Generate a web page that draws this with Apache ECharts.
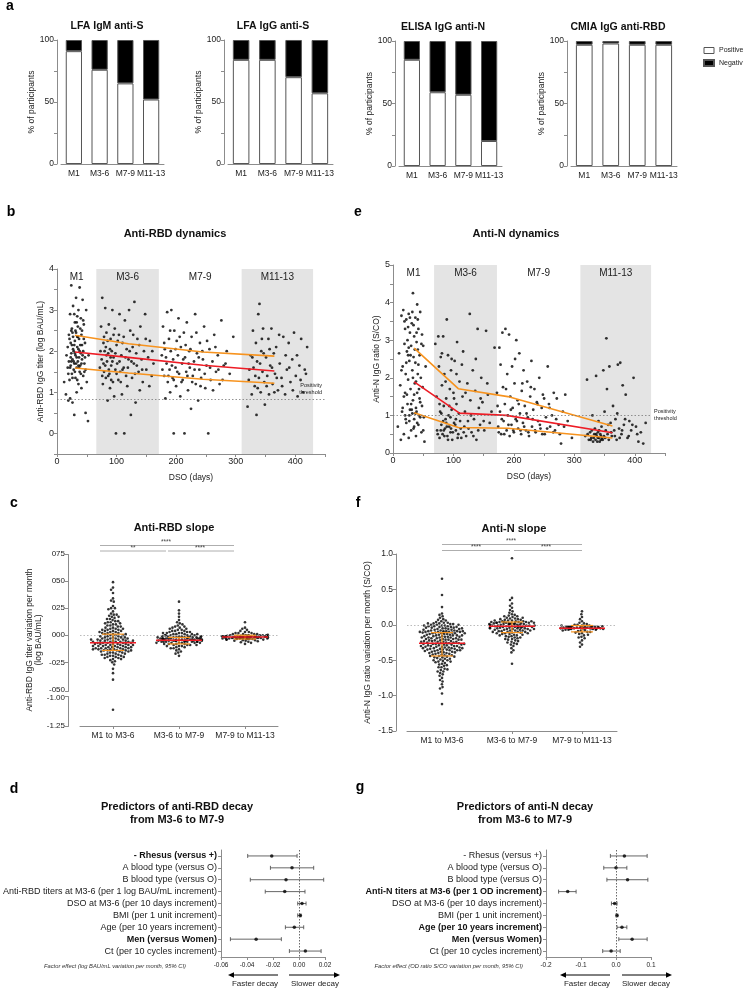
<!DOCTYPE html>
<html><head><meta charset="utf-8">
<script src="https://cdn.jsdelivr.net/npm/echarts@6/dist/echarts.min.js"></script>
<style>html,body{margin:0;padding:0;background:#fff}#c{width:743px;height:989px}</style>
</head><body><div id="c"></div>
<script>
// ---------------- DATA ----------------
const barCats = ['M1','M3-6','M7-9','M11-13'];
const lfaIgmPos = [91,76,65,52];  const lfaIgmNeg = [9,24,35,48];
const lfaIggPos = [84,84,70,57];  const lfaIggNeg = [16,16,30,43];
const elisaNPos = [85,59,57,20];  const elisaNNeg = [15,41,43,80];
const cmiaRbdPos = [97,98,97,97]; const cmiaRbdNeg = [3,2,3,3];

const periodNames = ['M1','M3-6','M7-9','M11-13'];
const rbdBands = [[0,66],[66,171],[171,310],[310,430]];
const nBands = [[0,68],[68,172],[172,310],[310,427]];
const bandShaded = [false,true,false,true];
const rbdThreshold = 0.83;
const nThreshold = 1.0;

const rbdM1 = [[12,1.25],[15,0.95],[16,1.9],[18,2.1],[18,1.6],[19,0.8],[20,2.4],[20,1.75],[21,1.3],[22,2.9],[22,0.85],[23,2.2],[23,1.65],[24,3.6],[24,1.95],[25,2.55],[25,1.45],[26,0.75],[26,1.8],[27,3.1],[27,2.35],[28,1.55],[28,2.0],[29,0.45],[29,1.7],[30,2.7],[30,2.25],[31,1.35],[31,1.9],[32,3.3],[32,2.45],[33,1.6],[33,1.0],[34,2.85],[34,2.1],[35,1.75],[35,2.6],[36,1.2],[36,3.0],[37,2.3],[37,1.85],[38,1.5],[38,3.55],[39,2.15],[39,1.65],[40,2.8],[40,1.95],[41,1.1],[42,2.5],[42,1.8],[43,3.25],[44,2.0],[44,1.4],[45,2.65],[46,1.7],[47,2.2],[48,0.5],[48,1.55],[49,3.0],[50,1.25],[52,0.3],[53,1.9],[27,2.05],[31,2.5],[35,2.35],[24,1.75],[29,2.15],[33,1.85],[41,2.4],[38,2.0]];
const rbdM1b = [[21,2.3],[23,1.85],[25,2.15],[26,2.45],[28,1.75],[30,1.95],[32,1.7],[34,2.35],[36,2.05],[37,1.6],[39,2.55],[40,1.45],[42,2.15],[43,1.9],[45,2.3],[46,1.5],[30,1.5],[33,2.7],[26,1.35],[22,1.6],[36,1.65],[44,2.75],[29,2.9],[34,1.3],[47,1.85],[19,1.45],[41,1.7],[24,2.5]];
const rbdM36 = [[72,1.6],[74,2.6],[75,1.8],[76,3.3],[77,1.2],[78,2.2],[79,1.5],[80,2.0],[81,3.05],[82,1.35],[83,2.45],[84,1.75],[85,0.8],[86,1.95],[87,2.65],[88,1.45],[89,1.1],[90,2.3],[91,1.65],[92,2.0],[93,3.0],[94,1.25],[95,1.85],[96,0.9],[97,2.55],[98,1.55],[99,0.0],[100,2.15],[101,1.7],[103,1.3],[104,2.4],[105,2.9],[106,1.5],[108,1.9],[109,0.95],[110,2.2],[112,1.6],[113,0.0],[114,2.75],[116,1.4],[117,2.05],[118,1.15],[120,1.8],[121,3.0],[123,2.5],[124,0.45],[126,1.35],[127,2.1],[129,1.7],[130,3.2],[132,0.75],[133,1.95],[135,2.3],[137,1.5],[139,1.05],[140,2.6],[142,1.8],[144,1.25],[146,2.0],[148,2.9],[150,1.55],[153,1.85],[156,2.25],[159,1.4],[162,1.7],[78,1.7],[82,2.1],[86,1.4],[90,1.85]];
const rbdM36b = [[73,2.0],[76,1.4],[79,2.35],[81,1.65],[83,1.9],[85,2.25],[87,1.55],[89,2.05],[91,1.3],[93,1.75],[95,2.4],[98,1.95],[100,1.45],[102,2.25],[105,1.75],[107,1.25],[110,1.55],[112,2.35],[115,1.85],[119,1.6],[122,2.0],[125,1.75],[128,2.4],[131,1.45],[134,1.65],[138,2.15],[143,1.55],[149,2.3],[155,1.15],[160,2.0]];
const rbdM79 = [[176,1.9],[178,2.6],[180,1.4],[181,2.05],[182,0.85],[184,1.7],[185,2.95],[186,1.25],[188,2.3],[189,1.55],[190,1.0],[191,2.0],[192,3.0],[194,1.35],[195,1.8],[196,0.0],[197,2.5],[199,1.6],[200,1.15],[201,2.25],[203,1.9],[204,2.8],[205,1.45],[207,0.9],[208,2.1],[210,1.7],[211,1.3],[213,2.45],[214,0.0],[215,1.85],[217,1.5],[218,2.7],[220,1.05],[222,2.0],[223,1.6],[225,0.6],[226,2.35],[228,1.4],[230,1.75],[232,2.9],[233,1.2],[235,1.95],[237,0.8],[239,1.55],[240,2.2],[242,1.35],[245,1.8],[247,2.6],[249,1.1],[251,1.65],[254,0.0],[256,2.05],[258,1.3],[261,1.75],[264,2.4],[267,1.5],[270,1.9],[273,1.2],[276,2.75],[280,1.65],[285,2.0],[290,1.45],[296,2.35]];
const rbdM79b = [[177,1.55],[180,2.2],[183,1.85],[187,1.4],[190,2.5],[193,1.65],[196,1.3],[199,2.05],[202,1.5],[206,2.35],[209,1.25],[212,1.8],[216,2.15],[219,1.4],[221,1.7],[224,2.05],[227,1.25],[231,1.55],[234,2.45],[238,1.85],[241,1.15],[244,2.0],[248,1.45],[252,2.25],[257,1.6],[262,1.05],[266,2.1],[271,1.55],[278,1.3],[283,1.7]];
const rbdM1113 = [[320,0.65],[322,1.3],[325,1.9],[327,0.95],[329,2.5],[330,1.6],[332,1.15],[334,2.2],[335,0.45],[336,1.75],[338,2.9],[339,1.35],[340,3.15],[342,1.0],[343,2.0],[345,1.5],[346,2.55],[348,1.25],[349,0.7],[351,1.85],[353,1.4],[355,2.3],[356,0.95],[358,1.65],[360,2.55],[362,1.2],[364,1.95],[366,1.45],[368,2.1],[371,1.05],[374,1.7],[377,1.35],[380,2.35],[383,0.95],[386,1.55],[389,2.2],[392,1.25],[395,1.8],[398,2.45],[401,1.4],[404,0.9],[407,1.65],[410,2.3],[413,1.0],[416,1.55],[420,2.1]];
const rbdM1113b = [[323,1.55],[328,1.85],[333,1.4],[337,1.1],[341,1.7],[344,2.3],[347,1.95],[352,1.15],[357,2.05],[361,1.6],[365,1.0],[369,1.35],[373,2.4],[378,1.15],[384,1.9],[390,1.6],[396,1.05],[403,1.9],[409,1.3],[418,1.45]];
const rbdTrendMedian = [[30,1.98],[120,1.85],[245,1.66],[365,1.52]];
const rbdTrendQ3 = [[30,2.39],[120,2.18],[245,1.98],[365,1.88]];
const rbdTrendQ1 = [[30,1.59],[120,1.47],[245,1.32],[365,1.22]];

const nM1 = [[8,0.7],[10,2.65],[12,1.8],[13,0.35],[14,3.65],[15,1.1],[16,2.3],[17,3.8],[18,0.5],[18,1.5],[19,2.9],[20,3.3],[20,1.0],[21,2.1],[22,3.55],[22,0.8],[23,2.7],[24,1.3],[24,3.0],[25,1.95],[26,0.4],[26,3.7],[27,2.45],[28,1.15],[28,3.2],[29,1.7],[30,2.85],[30,0.6],[31,3.45],[32,2.2],[32,1.05],[33,4.25],[33,1.4],[34,2.55],[35,3.1],[35,0.9],[36,1.85],[37,3.6],[37,2.4],[38,1.2],[38,0.45],[39,2.95],[40,3.95],[40,1.6],[41,2.1],[42,0.75],[42,3.3],[43,1.0],[44,2.6],[45,3.75],[45,1.35],[46,2.0],[47,0.55],[48,3.15],[49,1.75],[50,2.85],[51,0.95],[52,0.3],[54,2.3],[27,1.0],[31,1.15],[35,0.7],[39,1.1],[25,2.6],[34,3.4],[41,2.75]];
const nM1b = [[14,2.2],[16,1.2],[19,3.5],[21,0.9],[23,1.55],[25,3.35],[27,0.85],[29,2.6],[30,1.3],[32,3.75],[34,0.65],[36,2.75],[37,1.05],[39,3.2],[40,0.8],[42,2.35],[43,1.7],[45,0.95],[47,2.9],[48,1.25],[50,0.6],[22,2.4],[33,2.0],[28,3.6],[41,3.55],[20,1.6],[44,1.45],[26,2.8],[38,1.9],[35,1.55]];
const nM36 = [[70,2.9],[72,1.5],[73,0.6],[75,3.1],[76,2.3],[77,0.4],[78,1.1],[79,2.55],[80,0.75],[81,1.8],[82,0.5],[83,3.1],[84,1.25],[85,2.1],[86,0.65],[87,0.9],[88,1.45],[89,3.55],[90,0.45],[91,2.6],[92,1.0],[93,0.7],[94,1.7],[95,0.55],[96,2.2],[97,1.15],[98,0.35],[100,1.6],[101,0.8],[102,2.45],[104,0.6],[105,1.3],[106,2.95],[108,0.5],[110,1.9],[111,0.85],[113,0.4],[115,1.5],[116,2.7],[118,0.7],[119,1.1],[121,0.45],[123,1.85],[125,0.65],[127,3.7],[128,1.4],[130,0.55],[132,2.2],[134,0.9],[136,1.65],[138,0.35],[140,3.3],[142,1.2],[144,0.75],[146,2.0],[148,1.35],[151,0.6],[154,3.25],[157,1.55],[160,0.8],[163,1.1],[168,2.8],[80,1.05],[84,0.6],[88,0.8],[96,0.65],[104,0.9]];
const nM36b = [[74,0.5],[77,1.3],[79,0.6],[81,2.65],[83,0.85],[85,0.45],[87,1.9],[89,0.7],[91,0.35],[93,1.25],[95,0.95],[97,2.5],[99,0.55],[101,1.45],[103,0.75],[105,2.1],[107,0.4],[109,1.05],[112,0.65],[114,2.35],[117,0.55],[120,1.6],[124,0.85],[129,1.0],[133,0.45],[137,2.5],[141,0.6],[145,1.45],[150,0.85],[156,1.85]];
const nM79 = [[172,1.6],[174,0.7],[176,2.8],[177,1.1],[179,0.5],[181,3.2],[182,1.75],[183,0.85],[185,1.3],[186,3.3],[188,0.6],[189,2.1],[190,1.0],[192,3.15],[193,0.45],[194,1.5],[196,0.75],[197,2.3],[198,1.2],[200,0.55],[201,1.85],[203,0.9],[204,3.0],[206,1.4],[207,0.65],[209,2.65],[210,1.05],[212,0.5],[213,1.65],[215,0.8],[216,2.2],[218,1.25],[220,0.6],[222,1.9],[223,0.95],[225,0.45],[227,1.5],[229,2.45],[230,0.7],[232,1.15],[234,1.7],[236,0.55],[238,1.35],[240,0.85],[242,2.0],[244,0.65],[246,1.2],[248,1.55],[251,0.5],[253,0.95],[256,2.3],[258,1.3],[260,0.7],[263,1.0],[266,1.6],[268,0.6],[271,1.45],[274,0.75],[278,0.25],[281,1.1],[285,1.55],[289,0.85],[296,0.4]];
const nM79b = [[173,1.25],[175,0.55],[178,2.35],[180,0.9],[184,0.5],[187,1.7],[191,0.75],[195,1.15],[199,0.6],[202,2.5],[205,0.85],[208,1.3],[211,0.6],[214,1.85],[217,0.7],[221,1.05],[224,0.55],[228,1.75],[231,0.9],[235,0.6],[239,1.3],[243,0.75],[247,0.5],[250,1.45],[255,0.65],[259,1.2],[265,0.55],[270,0.9],[276,0.5],[283,0.7]];
const nM1113 = [[318,0.45],[321,1.95],[324,0.35],[326,0.55],[328,0.4],[330,1.0],[331,0.3],[333,0.5],[334,0.65],[335,0.35],[336,2.05],[337,0.45],[338,0.3],[339,0.55],[340,0.85],[341,0.4],[342,0.3],[343,0.5],[344,0.35],[345,0.7],[346,0.4],[348,2.2],[349,0.45],[350,1.1],[352,0.6],[353,3.05],[354,1.7],[355,0.5],[357,0.35],[358,2.3],[360,0.8],[362,0.45],[364,1.25],[366,0.6],[368,0.9],[370,0.35],[372,2.35],[374,0.65],[376,2.4],[378,0.5],[380,1.8],[382,0.75],[385,1.55],[388,0.4],[391,0.85],[394,0.6],[398,2.0],[402,0.7],[406,0.3],[410,0.55],[414,0.25],[418,0.8]];
const nM1113b = [[322,0.5],[327,0.35],[329,0.6],[332,0.4],[336,0.5],[339,0.4],[341,0.6],[344,0.45],[347,0.35],[351,0.4],[356,0.75],[361,0.55],[367,0.45],[371,1.05],[375,0.4],[379,0.6],[384,0.9],[390,0.45],[396,0.75],[404,0.5]];
const nTrendMedian = [[35,1.89],[110,1.06],[188,1.0],[363,0.54]];
const nTrendQ3 = [[35,2.79],[108,1.71],[190,1.5],[363,0.72]];
const nTrendQ1 = [[35,1.07],[108,0.68],[190,0.66],[363,0.4]];

const slopeCats = ['M1 to M3-6','M3-6 to M7-9','M7-9 to M11-13'];
const rbdSlope1 = [0.49,0.44,0.42,0.39,0.34,0.32,0.31,0.27,0.25,0.25,0.24,0.22,0.20,0.19,0.19,0.18,0.17,0.17,0.16,0.15,0.15,0.14,0.13,0.13,0.12,0.12,0.11,0.11,0.10,0.10,0.09,0.09,0.08,0.08,0.07,0.07,0.06,0.06,0.05,0.05,0.04,0.04,0.03,0.03,0.02,0.02,0.01,0.01,0.00,0.00,-0.01,-0.01,-0.02,-0.02,-0.02,-0.03,-0.03,-0.03,-0.04,-0.04,-0.04,-0.05,-0.05,-0.05,-0.06,-0.06,-0.06,-0.07,-0.07,-0.07,-0.08,-0.08,-0.08,-0.09,-0.09,-0.09,-0.10,-0.10,-0.10,-0.11,-0.11,-0.11,-0.12,-0.12,-0.12,-0.13,-0.13,-0.13,-0.14,-0.14,-0.14,-0.15,-0.15,-0.16,-0.16,-0.17,-0.17,-0.18,-0.18,-0.19,-0.19,-0.20,-0.20,-0.21,-0.22,-0.23,-0.24,-0.25,-0.27,-0.31,-0.35,-0.41,-1.1,
  -0.05,-0.06,-0.07,-0.08,-0.09,-0.10,-0.11,-0.12,-0.13,-0.14,-0.15,-0.04,-0.03,-0.02,-0.01,0.00,0.02,0.04,0.06,-0.16,-0.17,-0.18,-0.19,-0.07,-0.08,-0.09,-0.10,-0.11,-0.12,-0.06,-0.05,-0.04,-0.13,-0.14,0.01,0.03,0.05,-0.20,-0.21,-0.22];
const rbdSlope2 = [0.31,0.23,0.20,0.17,0.14,0.12,0.11,0.10,0.09,0.08,0.08,0.07,0.07,0.06,0.06,0.05,0.05,0.04,0.04,0.04,0.03,0.03,0.03,0.02,0.02,0.02,0.01,0.01,0.01,0.01,0.00,0.00,0.00,0.00,-0.01,-0.01,-0.01,-0.01,-0.01,-0.02,-0.02,-0.02,-0.02,-0.02,-0.03,-0.03,-0.03,-0.03,-0.03,-0.04,-0.04,-0.04,-0.04,-0.04,-0.05,-0.05,-0.05,-0.05,-0.05,-0.06,-0.06,-0.06,-0.06,-0.07,-0.07,-0.07,-0.07,-0.08,-0.08,-0.08,-0.09,-0.09,-0.09,-0.10,-0.10,-0.11,-0.11,-0.12,-0.12,-0.13,-0.14,-0.15,-0.16,-0.17,-0.19,
  -0.02,-0.03,-0.04,-0.05,-0.06,-0.07,-0.03,-0.04,-0.05,-0.06,-0.02,-0.01,0.00,-0.03,-0.04,-0.05,-0.06,-0.07,-0.08,-0.04,-0.05,0.01,0.02,-0.09,-0.10,-0.03,-0.05,-0.06,-0.04,-0.02];
const rbdSlope3 = [0.12,0.07,0.06,0.05,0.04,0.03,0.03,0.02,0.02,0.02,0.01,0.01,0.01,0.01,0.00,0.00,0.00,0.00,0.00,-0.005,-0.005,-0.005,-0.01,-0.01,-0.01,-0.01,-0.01,-0.01,-0.015,-0.015,-0.015,-0.015,-0.015,-0.02,-0.02,-0.02,-0.02,-0.02,-0.02,-0.025,-0.025,-0.025,-0.025,-0.03,-0.03,-0.03,-0.03,-0.035,-0.035,-0.035,-0.04,-0.04,-0.045,-0.045,-0.05,-0.05,-0.055,-0.06,-0.065,-0.07,-0.08,
  -0.01,-0.015,-0.02,-0.025,-0.01,-0.015,-0.02,-0.03,0.0,-0.005,-0.01,-0.02,-0.025,-0.015,-0.02,-0.03,-0.035,0.005,-0.01,-0.02,-0.015,-0.025,-0.04,-0.01,-0.02];
const rbdSlopeMedian = [-0.07,-0.045,-0.015];
const rbdSlopeQ1 = [-0.14,-0.08,-0.035];
const rbdSlopeQ3 = [0.01,-0.02,0.0];
const rbdSlopeTicks = ['-1.25','-1.00','','-050','-025','000','025','050','075'];

const nSlope1 = [0.65,0.42,0.25,0.16,0.14,0.12,0.10,0.08,0.07,0.06,0.05,0.04,0.03,0.03,0.02,0.02,0.01,0.01,0.00,0.00,-0.01,-0.01,-0.02,-0.02,-0.03,-0.03,-0.04,-0.04,-0.05,-0.05,-0.06,-0.06,-0.07,-0.07,-0.08,-0.08,-0.09,-0.09,-0.10,-0.10,-0.11,-0.11,-0.12,-0.12,-0.13,-0.13,-0.14,-0.14,-0.15,-0.15,-0.16,-0.16,-0.17,-0.17,-0.18,-0.18,-0.19,-0.19,-0.20,-0.20,-0.21,-0.21,-0.22,-0.22,-0.23,-0.23,-0.24,-0.24,-0.25,-0.25,-0.26,-0.26,-0.27,-0.27,-0.28,-0.28,-0.29,-0.29,-0.30,-0.30,-0.31,-0.31,-0.32,-0.32,-0.33,-0.33,-0.34,-0.34,-0.35,-0.35,-0.36,-0.36,-0.37,-0.38,-0.38,-0.39,-0.40,-0.40,-0.41,-0.42,-0.43,-0.44,-0.45,-0.46,-0.47,-0.48,-0.49,-0.50,-0.51,-0.52,-0.53,-0.55,-0.56,-0.58,-0.60,-0.62,-0.64,-0.66,-0.68,-0.70,-0.72,-0.75,-0.78,-0.80,-0.84,-0.88,-0.90,-0.97,-1.12,
  -0.08,-0.09,-0.09,-0.10,-0.10,-0.11,-0.12,-0.13,-0.14,-0.15,-0.16,-0.17,-0.18,-0.19,-0.20,-0.21,-0.22,-0.23,-0.24,-0.25,-0.26,-0.27,-0.28,-0.29,-0.30,-0.31,-0.32,-0.33,-0.34,-0.35,-0.36,-0.37,-0.38,-0.39,-0.40,-0.41,-0.42,-0.43,-0.44,-0.45,-0.46,-0.48,-0.50,-0.52,-0.54,-0.57,-0.60,-0.63,-0.66,-0.09,-0.10,-0.11,-0.12,-0.15,-0.18,-0.21,-0.24,-0.27,-0.30,-0.33,-0.36,-0.02,-0.03,-0.04,-0.06,-0.07,0.0,0.02,-0.01,-0.05];
const nSlope2 = [0.94,0.38,0.35,0.30,0.27,0.24,0.21,0.19,0.17,0.15,0.14,0.13,0.12,0.11,0.10,0.09,0.09,0.08,0.07,0.07,0.06,0.06,0.05,0.05,0.05,0.04,0.04,0.04,0.03,0.03,0.03,0.02,0.02,0.02,0.01,0.01,0.01,0.00,0.00,0.00,-0.01,-0.01,-0.01,-0.02,-0.02,-0.02,-0.03,-0.03,-0.03,-0.04,-0.04,-0.05,-0.05,-0.06,-0.06,-0.07,-0.07,-0.08,-0.08,-0.09,-0.10,-0.10,-0.11,-0.12,-0.13,-0.14,-0.15,-0.16,-0.17,-0.18,-0.19,-0.20,-0.21,-0.22,-0.24,-0.26,-0.28,-0.30,-0.33,-0.36,-0.39,-0.55,
  0.05,0.04,0.03,0.02,0.01,0.0,-0.01,-0.02,-0.03,-0.04,-0.05,-0.06,-0.07,-0.08,-0.09,-0.10,-0.11,-0.12,-0.13,-0.14,-0.15,0.04,0.03,0.02,0.01,0.0,-0.01,-0.02,-0.03,-0.04,-0.05,-0.06,-0.08,-0.10,-0.12,-0.16,-0.18,-0.20,-0.23,-0.25,0.06,0.08,0.10,0.12,-0.27];
const nSlope3 = [0.19,0.15,0.11,0.08,0.05,0.03,0.02,0.01,0.00,0.00,-0.01,-0.01,-0.02,-0.02,-0.02,-0.03,-0.03,-0.03,-0.03,-0.04,-0.04,-0.04,-0.04,-0.05,-0.05,-0.05,-0.05,-0.05,-0.06,-0.06,-0.06,-0.07,-0.07,-0.08,-0.08,-0.09,-0.10,-0.11,-0.12,-0.13,-0.15,-0.17,-0.19,-0.22,-0.25,-0.28,-0.31,
  -0.03,-0.04,-0.04,-0.05,-0.05,-0.06,-0.03,-0.02,-0.04,-0.05,-0.06,-0.07,-0.01,-0.02,-0.03,-0.05,-0.08,-0.10,-0.14,-0.18];
const nSlopeMedian = [-0.26,-0.02,-0.05];
const nSlopeQ1 = [-0.44,-0.11,-0.10];
const nSlopeQ3 = [-0.11,0.04,-0.01];

const rbdPredLabels = ['- Rhesus (versus +)','A blood type (versus O)','B blood type (versus O)','Anti-RBD titers at M3-6 (per 1 log BAU/mL increment)','DSO at M3-6 (per 10 days increment)','BMI (per 1 unit increment)','Age (per 10 years increment)','Men (versus Women)','Ct (per 10 cycles increment)'];
const rbdPredBold = [true,false,false,false,false,false,false,true,false];
const rbdPredEst = [-0.021,-0.0054,-0.010,-0.011,0.0023,0.001,-0.0036,-0.033,0.0049];
const rbdPredLow = [-0.0395,-0.022,-0.0375,-0.026,-0.001,-0.001,-0.0105,-0.0528,-0.0074];
const rbdPredHigh = [-0.0015,0.0113,0.019,0.0046,0.0054,0.0015,0.0036,-0.0136,0.017];

const nPredLabels = ['- Rhesus (versus +)','A blood type (versus O)','B blood type (versus O)','Anti-N titers at M3-6 (per 1 OD increment)','DSO at M3-6 (per 10 days increment)','BMI (per 1 unit increment)','Age (per 10 years increment)','Men (versus Women)','Ct (per 10 cycles increment)'];
const nPredBold = [false,false,false,true,false,false,true,true,false];
const nPredEst = [0.024,0.0,0.033,-0.138,-0.004,0.003,0.017,0.046,-0.014];
const nPredLow = [-0.016,-0.035,-0.026,-0.164,-0.013,0.0,0.003,0.008,-0.038];
const nPredHigh = [0.089,0.031,0.091,-0.114,0.003,0.005,0.031,0.089,0.012];

// ---------------- STYLE ----------------
const FONT = '"Liberation Sans", Arial, Helvetica, sans-serif';
const AX = '#8c8c8c', TXT = '#222', RED = '#ee1c25', ORANGE = '#f7931e', BAND = '#e4e4e4';

function ax(o, lab) {
  const a = {
    axisLine: {show: true, onZero: false, lineStyle: {color: AX, width: 1}},
    axisTick: {show: true, length: 3, lineStyle: {color: AX}},
    splitLine: {show: false},
    nameTextStyle: {color: TXT, fontSize: 8.5, fontFamily: FONT},
  };
  a.axisLabel = Object.assign({color: TXT, fontSize: 8.5, margin: 3, fontFamily: FONT}, lab || {});
  return Object.assign(a, o);
}
const fmt0 = v => Math.abs(v) < 1e-9 ? 0 : v;

const grids = [
  {left: 61, top: 40, width: 103, height: 124},
  {left: 228, top: 40, width: 105, height: 124},
  {left: 399, top: 41, width: 103, height: 125},
  {left: 571, top: 41, width: 106, height: 125},
  {left: 57, top: 269, width: 268, height: 185},
  {left: 393, top: 265, width: 272, height: 188},
  {left: 80, top: 554, width: 198, height: 172},
  {left: 407, top: 554, width: 210, height: 177},
  {left: 219, top: 850, width: 106, height: 107},
  {left: 546, top: 850, width: 105, height: 107},
];

const xAxes = [], yAxes = [], series = [];

// panel a
const barSets = [[lfaIgmPos, lfaIgmNeg], [lfaIggPos, lfaIggNeg], [elisaNPos, elisaNNeg], [cmiaRbdPos, cmiaRbdNeg]];
barSets.forEach((s, i) => {
  xAxes.push(ax({type: 'category', gridIndex: i, data: barCats, axisTick: {show: false}}, {fontSize: 8.5, margin: 5, interval: 0}));
  yAxes.push(ax({type: 'value', gridIndex: i, min: 0, max: 100, interval: 25, offset: 4,
    name: '% of participants', nameLocation: 'middle', nameGap: 19}, {formatter: v => v % 50 === 0 ? String(v) : ''}));
  series.push({type: 'bar', name: 'Positive', xAxisIndex: i, yAxisIndex: i, stack: 's' + i, data: s[0], barWidth: '63%',
    itemStyle: {color: '#fff', borderColor: '#555', borderWidth: 1}});
  series.push({type: 'bar', name: 'Negative', xAxisIndex: i, yAxisIndex: i, stack: 's' + i, data: s[1], barWidth: '63%',
    itemStyle: {color: '#000', borderColor: '#555', borderWidth: 1}});
});

// panels b & e
function dynPanel(gi, pts, bands, yMin, yMax, yName, thr, thrLabelInside, trends) {
  xAxes.push(ax({type: 'value', gridIndex: gi, min: 0, max: 450, interval: 50, name: 'DSO (days)', nameLocation: 'middle', nameGap: 19},
    {formatter: v => v % 100 === 0 ? String(v) : '', fontSize: 9}));
  yAxes.push(ax({type: 'value', gridIndex: gi, min: yMin, max: yMax, interval: 0.5, name: yName, nameLocation: 'middle', nameGap: 12},
    {formatter: v => (v >= 0 && Math.abs(v - Math.round(v)) < 1e-9) ? String(Math.round(v)) : '', fontSize: 9}));
  const idx = xAxes.length - 1;
  const areaData = bands.map((b, k) => [
    {xAxis: b[0], name: periodNames[k], itemStyle: {color: bandShaded[k] ? BAND : 'rgba(0,0,0,0)'}},
    {xAxis: b[1]}
  ]);
  const thrLine = thrLabelInside
    ? [{yAxis: thr}]
    : [[{coord: [0, thr]}, {coord: [bands[3][1], thr]}]];
  series.push({type: 'scatter', xAxisIndex: idx, yAxisIndex: idx, data: pts, symbolSize: 2.8,
    itemStyle: {color: '#000'}, z: 3,
    markArea: {silent: true, data: areaData, label: {show: true, position: 'insideTop', distance: 3, color: TXT, fontSize: 10, fontFamily: FONT}},
    markLine: {silent: true, symbol: 'none', data: thrLine,
      lineStyle: {type: [1.5, 2], color: '#777', width: 0.8},
      label: {show: true, formatter: 'Positivity\nthreshold', position: thrLabelInside ? 'insideEndTop' : 'end', fontSize: 5.5, lineHeight: 7, color: TXT, distance: 3, fontFamily: FONT}}});
  trends.forEach(t => series.push({type: 'line', xAxisIndex: idx, yAxisIndex: idx, data: t[0], showSymbol: false, z: 4,
    lineStyle: {color: t[1], width: 1.6}, silent: true}));
}
dynPanel(4, [].concat(rbdM1, rbdM1b, rbdM36, rbdM36b, rbdM79, rbdM79b, rbdM1113, rbdM1113b), rbdBands, -0.5, 4, 'Anti-RBD IgG titer (log BAU/mL)', rbdThreshold, true,
  [[rbdTrendQ3, ORANGE], [rbdTrendQ1, ORANGE], [rbdTrendMedian, RED]]);
dynPanel(5, [].concat(nM1, nM1b, nM36, nM36b, nM79, nM79b, nM1113, nM1113b), nBands, 0, 5, 'Anti-N IgG ratio (S/CO)', nThreshold, false,
  [[nTrendQ3, ORANGE], [nTrendQ1, ORANGE], [nTrendMedian, RED]]);

// panels c & f
function medRender(params, api) {
  const m = api.coord([api.value(0), api.value(1)]);
  const p1 = api.coord([api.value(0), api.value(2)]);
  const p3 = api.coord([api.value(0), api.value(3)]);
  const cx = m[0];
  return {type: 'group', children: [
    {type: 'line', shape: {x1: cx, y1: p1[1], x2: cx, y2: p3[1]}, style: {stroke: ORANGE, lineWidth: 1.2}},
    {type: 'line', shape: {x1: cx - 11, y1: p1[1], x2: cx + 11, y2: p1[1]}, style: {stroke: ORANGE, lineWidth: 1.2}},
    {type: 'line', shape: {x1: cx - 11, y1: p3[1], x2: cx + 11, y2: p3[1]}, style: {stroke: ORANGE, lineWidth: 1.2}},
    {type: 'line', shape: {x1: cx - 23, y1: m[1], x2: cx + 23, y2: m[1]}, style: {stroke: RED, lineWidth: 1.5}},
  ]};
}
function slopePanel(gi, groups, med, q1, q3, yAxisOpt, labOpt, yName) {
  xAxes.push(ax({type: 'category', gridIndex: gi, data: slopeCats, jitter: 46, jitterOverlap: false, jitterMargin: 0.3,
    axisTick: {show: true, alignWithLabel: true, length: 3, lineStyle: {color: AX}}}, {fontSize: 8.5, margin: 5, interval: 0}));
  yAxes.push(ax(Object.assign({type: 'value', gridIndex: gi, name: yName, nameLocation: 'middle', nameGap: 24}, yAxisOpt), labOpt));
  const idx = xAxes.length - 1;
  const pts = [];
  groups.forEach((g, k) => g.forEach(v => pts.push([k, v])));
  series.push({type: 'scatter', xAxisIndex: idx, yAxisIndex: idx, data: pts, symbolSize: 2.6, itemStyle: {color: '#000'}, z: 2,
    markLine: {silent: true, symbol: 'none', data: [{yAxis: 0}], label: {show: false}, lineStyle: {type: [1.5, 2], color: '#aaa', width: 0.8}}});
  series.push({type: 'custom', xAxisIndex: idx, yAxisIndex: idx, renderItem: medRender, z: 5, silent: true,
    data: med.map((m, k) => [k, m, q1[k], q3[k]])});
}
slopePanel(6, [rbdSlope1, rbdSlope2, rbdSlope3], rbdSlopeMedian, rbdSlopeQ1, rbdSlopeQ3,
  {min: -1.25, max: 0.75, interval: 0.25, offset: 12,
   breaks: [{start: -0.98, end: -0.52, gap: '3%'}],
   breakArea: {show: true, expandOnClick: false, zigzagAmplitude: 1.5, itemStyle: {color: '#fff', borderWidth: 0, borderColor: 'rgba(0,0,0,0)'}}},
  {fontSize: 8, hideOverlap: false, formatter: v => { const k = Math.round((fmt0(v) + 1.25) / 0.25); return rbdSlopeTicks[k] !== undefined ? rbdSlopeTicks[k] : ''; }},
  'Anti-RBD IgG titer variation per month\n(log BAU/mL)');
slopePanel(7, [nSlope1, nSlope2, nSlope3], nSlopeMedian, nSlopeQ1, nSlopeQ3,
  {min: -1.5, max: 1.0, interval: 0.5, offset: 11},
  {fontSize: 8.5, formatter: v => fmt0(v).toFixed(1)},
  'Anti-N IgG ratio variation per month (S/CO)');

// panels d & g
function errRender(params, api) {
  const a = api.coord([api.value(0), api.value(2)]);
  const b = api.coord([api.value(1), api.value(2)]);
  const st = {stroke: '#555', lineWidth: 0.9};
  return {type: 'group', children: [
    {type: 'line', shape: {x1: a[0], y1: a[1], x2: b[0], y2: b[1]}, style: st},
    {type: 'line', shape: {x1: a[0], y1: a[1] - 2, x2: a[0], y2: a[1] + 2}, style: st},
    {type: 'line', shape: {x1: b[0], y1: b[1] - 2, x2: b[0], y2: b[1] + 2}, style: st},
  ]};
}
function forestPanel(gi, labels, bold, est, lo, hi, xMin, xMax, xInt, dec) {
  xAxes.push(ax({type: 'value', gridIndex: gi, min: xMin, max: xMax, interval: xInt},
    {fontSize: 6.5, margin: 5, formatter: v => fmt0(v).toFixed(dec)}));
  yAxes.push(ax({type: 'category', gridIndex: gi, data: labels, inverse: true,
    axisTick: {show: true, length: 3, alignWithLabel: true, lineStyle: {color: AX}}},
    {interval: 0, margin: 4, formatter: (v, i) => (bold[i] ? '{b|' : '{n|') + v + '}',
     rich: {b: {fontWeight: 'bold', fontSize: 9, color: '#111', fontFamily: FONT}, n: {fontSize: 9, color: TXT, fontFamily: FONT}}}));
  const idx = xAxes.length - 1;
  series.push({type: 'custom', xAxisIndex: idx, yAxisIndex: idx, renderItem: errRender, silent: true, z: 3,
    data: lo.map((l, i) => [l, hi[i], i])});
  series.push({type: 'scatter', xAxisIndex: idx, yAxisIndex: idx, data: est.map((v, i) => [v, i]), symbolSize: 3.5,
    itemStyle: {color: '#000'}, z: 4,
    markLine: {silent: true, symbol: 'none', data: [{xAxis: 0}], label: {show: false}, lineStyle: {type: [1.5, 1.5], color: '#444', width: 0.8}}});
}
forestPanel(8, rbdPredLabels, rbdPredBold, rbdPredEst, rbdPredLow, rbdPredHigh, -0.06, 0.02, 0.02, 2);
forestPanel(9, nPredLabels, nPredBold, nPredEst, nPredLow, nPredHigh, -0.2, 0.1, 0.1, 1);

// ---------------- TEXT / ANNOTATIONS ----------------
const g = [];
function txt(t, x, y, size, weight, extra) {
  g.push(Object.assign({type: 'text', x: x, y: y, silent: true, style: Object.assign({
    text: t, fill: TXT, font: (weight || 'normal') + ' ' + size + 'px ' + FONT,
    align: 'center', verticalAlign: 'middle', textAlign: 'center', textVerticalAlign: 'middle'}, extra || {})}));
}
function hline(x1, x2, y, color) {
  g.push({type: 'line', silent: true, shape: {x1: x1, y1: y, x2: x2, y2: y}, style: {stroke: color || '#999', lineWidth: 0.8}});
}
function arrow(x1, x2, y) {
  const dir = x2 > x1 ? 1 : -1;
  g.push({type: 'line', silent: true, shape: {x1: x1, y1: y, x2: x2 - dir * 5, y2: y}, style: {stroke: '#000', lineWidth: 1}});
  g.push({type: 'polygon', silent: true, shape: {points: [[x2, y], [x2 - dir * 6, y - 2.8], [x2 - dir * 6, y + 2.8]]}, style: {fill: '#000'}});
}
[['a', 10, 6], ['b', 11, 212], ['e', 358, 212], ['c', 14, 503], ['f', 358, 503], ['d', 14, 789], ['g', 360, 787]]
  .forEach(p => txt(p[0], p[1], p[2], 14, 'bold', {fill: '#000'}));
[['LFA IgM anti-S', 107, 26], ['LFA IgG anti-S', 273, 26], ['ELISA IgG anti-N', 443, 27], ['CMIA IgG anti-RBD', 618, 27]]
  .forEach(p => txt(p[0], p[1], p[2], 10.5, 'bold', {fill: '#111'}));
[['Anti-RBD dynamics', 175, 234], ['Anti-N dynamics', 516, 234], ['Anti-RBD slope', 174, 528], ['Anti-N slope', 514, 529],
 ['Predictors of anti-RBD decay', 177, 807], ['from M3-6 to M7-9', 177, 820],
 ['Predictors of anti-N decay', 525, 807], ['from M3-6 to M7-9', 525, 820]]
  .forEach(p => txt(p[0], p[1], p[2], 11, 'bold', {fill: '#111'}));
hline(100, 234, 545.5); hline(100, 166, 551); hline(168, 234, 551);
txt('****', 166, 542, 6.5, 'normal', {fill: '#444'}); txt('**', 133, 548, 6.5, 'normal', {fill: '#444'}); txt('****', 200, 548, 6.5, 'normal', {fill: '#444'});
hline(442, 582, 544.5); hline(442, 510, 550.5); hline(514, 582, 550.5);
txt('****', 511, 541, 6.5, 'normal', {fill: '#444'}); txt('****', 476, 547, 6.5, 'normal', {fill: '#444'}); txt('****', 546, 547, 6.5, 'normal', {fill: '#444'});
txt('Factor effect (log BAU/mL variation per month, 95% CI)', 186, 966, 5.8, 'italic', {align: 'right', textAlign: 'right', fill: '#333'});
txt('Factor effect (OD ratio S/CO variation per month, 95% CI)', 523, 966, 5.8, 'italic', {align: 'right', textAlign: 'right', fill: '#333'});
arrow(278, 228, 975); arrow(289, 340, 975);
txt('Faster decay', 255, 984, 8, 'normal'); txt('Slower decay', 315, 984, 8, 'normal');
arrow(610, 560, 975); arrow(622, 672, 975);
txt('Faster decay', 587, 984, 8, 'normal'); txt('Slower decay', 646, 984, 8, 'normal');

const option = {
  animation: false,
  backgroundColor: '#fff',
  textStyle: {fontFamily: FONT},
  grid: grids,
  xAxis: xAxes,
  yAxis: yAxes,
  legend: {data: [{name: 'Positive', itemStyle: {color: '#fff', borderColor: '#555', borderWidth: 1}}, {name: 'Negative', itemStyle: {color: '#000'}}],
    orient: 'vertical', left: 698, top: 42, itemWidth: 10, itemHeight: 6, itemGap: 5, icon: 'rect', selectedMode: false,
    textStyle: {fontSize: 7, color: TXT, fontFamily: FONT}},
  series: series,
  graphic: {elements: g},
};
const chart = echarts.init(document.getElementById('c'), null, {renderer: 'canvas', width: 743, height: 989});
chart.setOption(option);
</script>
</body></html>
